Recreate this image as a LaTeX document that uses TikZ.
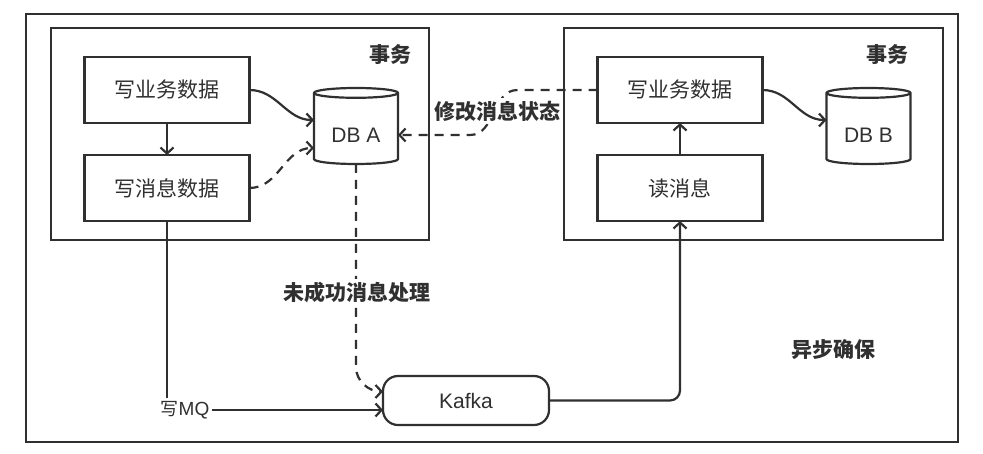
\documentclass[tikz,border=0pt]{standalone}
\usepackage{fontspec}
\setmainfont{Liberation Sans}
\newfontfamily\cjk{Noto Sans CJK SC}
\usetikzlibrary{shapes.geometric,arrows.meta,calc}
\definecolor{ink}{HTML}{303030}
\begin{document}
\begin{tikzpicture}[x=1pt,y=-1pt,
  every node/.style={inner sep=0pt, outer sep=0pt, text=ink},
  ln/.style={draw=ink, line width=2.2pt},
  dsh/.style={dash pattern=on 9pt off 7pt},
  arr/.style={-{Straight Barb[length=6pt,width=13pt]}},
  box/.style={draw=ink, line width=2.2pt, minimum width=165pt, minimum height=66pt, font=\cjk\fontsize{21}{24}\selectfont},
  db/.style={cylinder, shape border rotate=90, aspect=0.2, draw=ink, line width=2.2pt, minimum width=84pt, minimum height=76pt, text height=27pt, text depth=0pt, font=\fontsize{21}{24}\selectfont},
  lbl/.style={font=\cjk\bfseries\fontsize{21}{24}\selectfont},
  wlbl/.style={lbl, fill=white, inner sep=3pt}
]
\useasboundingbox (0,0) rectangle (983,454);
% containers
\draw[ln, line width=2.6pt] (26,14) rectangle (958,442);
\draw[ln] (51,28) rectangle (429,240);
\draw[ln] (564,28) rectangle (943,240);
\node[lbl] (txA) at (390,55) {事务};
\node[lbl] (txB) at (887,55) {事务};
\node[lbl] (async) at (833,350) {异步确保};
% left side
\node[box] (wbA) at (167,90) {写业务数据};
\node[box] (wmA) at (167,188) {写消息数据};
\node[db] (dbA) at (356,129) {DB A};
% right side
\node[box] (wbB) at (680,90) {写业务数据};
\node[box] (rm) at (680,188) {读消息};
\node[db] (dbB) at (868.5,129) {DB B};
% kafka
\node[draw=ink, line width=2.2pt, rounded corners=15pt, minimum width=166pt, minimum height=49pt, font=\fontsize{21}{24}\selectfont] (kafka) at (466,400.5) {Kafka};
\node[inner sep=3pt] (mq) at (185,410) {{\cjk\fontsize{18}{20}\selectfont 写}{\fontsize{19}{20}\selectfont MQ}};
% connectors
\draw[ln,arr] (wbA.east) to[out=0,in=180] ($(dbA.west)+(0,-9)$);
\draw[ln,dsh,arr] (wmA.east) to[out=0,in=180] ($(dbA.west)+(0,19)$);
\draw[ln,arr] (wbA.south) -- (wmA.north);
\draw[ln,dsh,arr] (wbB.west) -- ++(-80,0) to[out=180,in=0] ($(dbA.east)+(72,6)$) -- ($(dbA.east)+(0,6)$);
\node[wlbl] (mod) at (497,111) {修改消息状态};
\draw[ln,dsh,arr] (dbA.south) -- ++(0,203) to[out=-90,in=180] ($(kafka.west)+(0,-9)$);
\node[wlbl] (fail) at (357,292) {未成功消息处理};
\draw[ln] (wmA.south) -- (wmA.south |- mq.north);
\draw[ln,arr] (mq.east) -- (mq.east -| kafka.west);
\draw[ln,arr,rounded corners=10pt] (kafka.east) -| (rm.south);
\draw[ln,arr] (rm.north) -- (wbB.south);
\draw[ln,arr] (wbB.east) to[out=0,in=180] ($(dbB.west)+(0,-9)$);
\end{tikzpicture}
\end{document}
